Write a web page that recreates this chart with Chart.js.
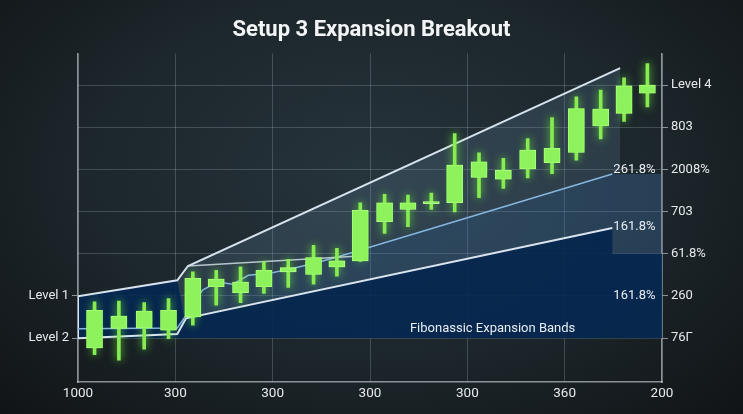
<!DOCTYPE html>
<html>
<head>
<meta charset="utf-8">
<script src="https://cdn.jsdelivr.net/npm/chart.js@4.4.1/dist/chart.umd.min.js"></script>
<style>
html,body{margin:0;padding:0}
body{width:743px;height:414px;overflow:hidden;background:radial-gradient(ellipse at 50% 42%,#26343b 0%,#1c262b 55%,#111416 100%)}
</style>
</head>
<body>
<canvas id="grafico" width="743" height="414"></canvas>
<script>
// axis labels
const xLabels = ['1000', '300', '300', '300', '300', '360', '200']
const leftTickValues = [1, 2]
const leftTickLabels = ['Level 2', 'Level 1']
const rightTickLabels = ['76Γ', '260', '61.8%', '703', '2008%', '803', 'Level 4']

// candles
const candleX = [0.17, 0.42, 0.68, 0.93, 1.18, 1.42, 1.67, 1.91, 2.16, 2.42, 2.66, 2.90,
                 3.15, 3.39, 3.63, 3.87, 4.12, 4.37, 4.62, 4.87, 5.12, 5.37, 5.61, 5.85]
const openV  = [0.77, 1.23, 1.24, 1.19, 1.50, 2.22, 2.08, 2.22, 2.57, 2.51, 2.69, 2.83,
                3.76, 4.05, 4.19, 4.21, 4.81, 4.77, 5.01, 5.16, 5.40, 6.03, 6.33, 6.81]
const highV  = [1.86, 1.88, 1.84, 1.94, 2.57, 2.61, 2.69, 2.81, 2.87, 3.20, 3.13, 4.21,
                4.41, 4.39, 4.44, 5.85, 5.39, 5.26, 5.73, 6.23, 6.72, 6.88, 7.17, 7.51]
const lowV   = [0.61, 0.48, 0.74, 0.99, 1.31, 1.78, 1.84, 2.06, 2.20, 2.28, 2.47, 2.82,
                3.48, 3.64, 4.05, 3.99, 4.33, 4.55, 4.80, 4.90, 5.22, 5.72, 6.14, 6.48]
const closeV = [1.66, 1.52, 1.64, 1.66, 2.42, 2.40, 2.33, 2.61, 2.67, 2.91, 2.83, 4.03,
                4.21, 4.21, 4.24, 5.10, 5.18, 4.98, 5.46, 5.50, 6.44, 6.43, 6.98, 7.00]

// expansion band lines [x, y]
const upperLine = [[0, 1.99], [1.02, 2.37], [1.13, 2.71], [5.57, 7.40]]
const innerLine = [[1.13, 2.71], [2.85, 2.94]]
const midLine = [[0, 1.22], [1.02, 1.24], [1.09, 1.47], [1.28, 2.14], [1.43, 2.33], [1.59, 2.28],
                 [1.75, 2.49], [1.97, 2.54], [2.18, 2.64], [2.44, 2.78], [2.69, 2.94], [5.49, 4.89]]
const lowerLine = [[0, 1.99], [0, 1.0], [1.02, 1.1], [1.11, 1.47], [5.49, 3.61]]

const bandTexts = ['261.8%', '161.8%', '161.8%', 'Fibonassic Expansion Bands']
const bandTextPos = [[5.50, 5.0], [5.50, 3.65], [5.50, 2.0], [3.41, 1.23]]

const pts = arr => arr.map(p => ({x: p[0], y: p[1]}))

// fill polygons built from the lines above
const navyPoly = pts([[0, 1.99], [1.02, 2.37], [1.11, 1.47], [5.49, 3.61], [5.49, 3.0], [6, 3.0], [6, 1.0], [0, 1.0]])
const upperPoly = pts([[1.02, 2.37]].concat(upperLine.slice(2), [[5.57, 4.93]], midLine.slice(2).reverse()))
const midPoly = pts(midLine.slice(2).concat([[6, 4.89], [6, 3.0], [5.49, 3.0]], lowerLine.slice(3).reverse()))

const wicks = candleX.map((x, i) => ({x: x, y: [lowV[i], highV[i]]}))
const bodies = candleX.map((x, i) => ({x: x, y: [Math.min(openV[i], closeV[i]), Math.max(openV[i], closeV[i])]}))

const glow = {
  id: 'glow',
  beforeDatasetDraw(chart, args) {
    if (!chart.data.datasets[args.index].glow) return
    chart.ctx.save()
    chart.ctx.shadowColor = 'rgba(120,255,60,0.85)'
    chart.ctx.shadowBlur = 9
  },
  afterDatasetDraw(chart, args) {
    if (!chart.data.datasets[args.index].glow) return
    chart.ctx.restore()
  }
}

const textos = {
  id: 'textos',
  afterDatasetsDraw(chart) {
    const ctx = chart.ctx
    const sx = chart.scales.x, sy = chart.scales.y
    ctx.save()
    ctx.font = '13px Roboto'
    ctx.fillStyle = '#e8edf2'
    ctx.textAlign = 'left'
    ctx.textBaseline = 'middle'
    bandTexts.forEach((t, i) => {
      ctx.fillText(t, sx.getPixelForValue(bandTextPos[i][0]), sy.getPixelForValue(bandTextPos[i][1]))
    })
    ctx.restore()
  }
}

Chart.defaults.font.family = 'Roboto'
Chart.defaults.font.size = 13
Chart.defaults.color = '#e6e9ec'

const gridCor = 'rgba(200,212,222,0.22)'
const eixoCor = 'rgba(215,222,228,0.6)'

new Chart(document.getElementById('grafico'), {
  data: {
    datasets: [
      {type: 'line', data: navyPoly, fill: 'shape', backgroundColor: 'rgba(6,40,82,0.9)', borderWidth: 0, pointRadius: 0, order: 12},
      {type: 'line', data: upperPoly, fill: 'shape', backgroundColor: 'rgba(105,145,178,0.2)', borderWidth: 0, pointRadius: 0, order: 11},
      {type: 'line', data: midPoly, fill: 'shape', backgroundColor: 'rgba(70,125,185,0.3)', borderWidth: 0, pointRadius: 0, order: 10},
      {type: 'line', data: pts(upperLine), borderColor: '#d6e2ee', borderWidth: 2, pointRadius: 0, fill: false, order: 5},
      {type: 'line', data: pts(innerLine), borderColor: 'rgba(220,230,240,0.8)', borderWidth: 1.5, pointRadius: 0, fill: false, order: 5},
      {type: 'line', data: pts(midLine), borderColor: '#86b6e0', borderWidth: 1.5, pointRadius: 0, fill: false, order: 5},
      {type: 'line', data: pts(lowerLine), borderColor: '#d9e4ee', borderWidth: 2, pointRadius: 0, fill: false, order: 5},
      {type: 'bar', data: wicks, backgroundColor: '#86ec52', barThickness: 3, grouped: false, glow: true, order: 2},
      {type: 'bar', data: bodies, backgroundColor: '#8ef25c', borderColor: '#b8ff90', borderWidth: 1,
       borderSkipped: false, barThickness: 16, grouped: false, glow: true, order: 1}
    ]
  },
  options: {
    responsive: false,
    animation: false,
    plugins: {
      legend: {display: false},
      tooltip: {enabled: false},
      title: {
        display: true,
        text: 'Setup 3 Expansion Breakout',
        color: '#f3f5f7',
        font: {size: 22, weight: 'bold'},
        padding: {top: 17, bottom: 10}
      }
    },
    scales: {
      x: {
        type: 'linear', min: 0, max: 6, offset: false,
        afterBuildTicks(s) { s.ticks = xLabels.map((t, i) => ({value: i})) },
        ticks: {autoSkip: false, maxRotation: 0, padding: 4, font: {size: 13.5}, callback: v => xLabels[v]},
        grid: {color: gridCor, tickLength: 0, offset: false},
        border: {color: eixoCor, width: 1.5},
        afterFit(s) { s.height = 32 }
      },
      y: {
        position: 'left', min: -0.04, max: 7.75,
        afterBuildTicks(s) { s.ticks = leftTickValues.map(v => ({value: v})) },
        ticks: {padding: 3, callback: v => leftTickLabels[leftTickValues.indexOf(v)]},
        grid: {drawOnChartArea: false, tickLength: 6, tickColor: eixoCor},
        border: {color: eixoCor, width: 1.5},
        afterFit(s) { s.width = 78 }
      },
      y2: {
        position: 'right', min: -0.04, max: 7.75,
        afterBuildTicks(s) { s.ticks = rightTickLabels.map((t, i) => ({value: i + 1})) },
        ticks: {padding: 3, callback: v => rightTickLabels[v - 1]},
        grid: {color: gridCor, tickLength: 6, tickColor: eixoCor},
        border: {color: eixoCor, width: 1.5},
        afterFit(s) { s.width = 81 }
      }
    }
  },
  plugins: [glow, textos]
})
</script>
</body>
</html>
